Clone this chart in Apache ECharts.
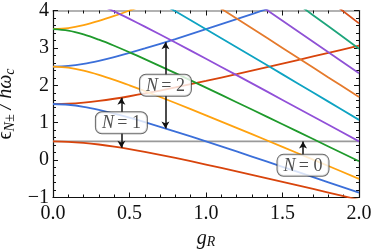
<!DOCTYPE html>
<html><head><meta charset="utf-8">
<script src="https://cdn.jsdelivr.net/npm/echarts@6/dist/echarts.min.js"></script>
<style>html,body{margin:0;padding:0;background:#fff}#c{width:374px;height:251px}</style>
</head><body><div id="c"></div>
<script>
// g_R sample points
const gValues = [0, 0.1, 0.2, 0.3, 0.4, 0.5, 0.6, 0.8, 1.0, 1.2, 1.4, 1.6, 1.8, 2.0];
// eps_{N±}/hbar omega_c
const eps0 = [0.5, 0.5, 0.5, 0.5, 0.5, 0.5, 0.5, 0.5, 0.5, 0.5, 0.5, 0.5, 0.5, 0.5];
const eps1Plus = [1.5, 1.51, 1.539, 1.583, 1.64, 1.707, 1.781, 1.943, 2.118, 2.3, 2.487, 2.676, 2.868, 3.062];
const eps1Minus = [0.5, 0.49, 0.461, 0.417, 0.36, 0.293, 0.219, 0.057, -0.118, -0.3, -0.487, -0.676, -0.868, -1.062];
const eps2Plus = [2.5, 2.52, 2.574, 2.656, 2.755, 2.866, 2.985, 3.237, 3.5, 3.769, 4.042, 4.317, 4.594, 4.872];
const eps2Minus = [1.5, 1.48, 1.426, 1.344, 1.245, 1.134, 1.015, 0.763, 0.5, 0.231, -0.042, -0.317, -0.594, -0.872];
const eps3Plus = [3.5, 3.529, 3.608, 3.721, 3.854, 4.0, 4.153, 4.473, 4.803, 5.138, 5.476, 5.816, 6.158, 6.5];
const eps3Minus = [2.5, 2.471, 2.392, 2.279, 2.146, 2.0, 1.847, 1.527, 1.197, 0.862, 0.524, 0.184, -0.158, -0.5];
const eps4Minus = [3.5, 3.461, 3.36, 3.219, 3.057, 2.882, 2.7, 2.324, 1.938, 1.548, 1.156, 0.761, 0.365, -0.031];
const eps5Minus = [4.5, 4.452, 4.329, 4.163, 3.975, 3.775, 3.568, 3.143, 2.709, 2.271, 1.83, 1.388, 0.944, 0.5];
const eps6Minus = [5.5, 5.443, 5.3, 5.111, 4.9, 4.677, 4.448, 3.978, 3.5, 3.018, 2.534, 2.049, 1.563, 1.076];
const eps7Minus = [6.5, 6.434, 6.272, 6.062, 5.83, 5.586, 5.336, 4.825, 4.307, 3.786, 3.262, 2.737, 2.211, 1.685];
const eps8Minus = [7.5, 7.426, 7.245, 7.015, 6.763, 6.5, 6.231, 5.683, 5.128, 4.569, 4.009, 3.447, 2.884, 2.321];
const eps9Minus = [8.5, 8.417, 8.219, 7.97, 7.7, 7.419, 7.132, 6.548, 5.959, 5.365, 4.77, 4.174, 3.577, 2.979];
const eps10Minus = [9.5, 9.408, 9.194, 8.928, 8.64, 8.342, 8.038, 7.421, 6.798, 6.173, 5.545, 4.916, 4.286, 3.656];
// tick labels
const xTicks = ['0.0', '0.5', '1.0', '1.5', '2.0'];
const yTicks = ['\u22121', '0', '1', '2', '3', '4'];
// annotations
const annN = ['0', '1', '2'];
const annG = [1.634, 0.447, 0.735];
const annEps = [-0.14, 1.0, 2.0];
const annTop = [0.5, 1.67, 3.15];
const annBottom = [null, 0.33, 0.847];

const colors = {
  gray: '#9a9a9a', n1: '#d8440c', n2: '#3b6fd9', n3: '#ffa20f', n4: '#1f9a2c',
  n5: '#9150d8', n6: '#0ea3c2', n7: '#e57a2c', n8: '#8f52d5', n9: '#1ea57c', n10: '#d9501a'
};
const curves = [
  [eps0, colors.gray], [eps1Plus, colors.n1], [eps1Minus, colors.n1],
  [eps2Plus, colors.n2], [eps2Minus, colors.n2], [eps3Plus, colors.n3], [eps3Minus, colors.n3],
  [eps4Minus, colors.n4], [eps5Minus, colors.n5], [eps6Minus, colors.n6], [eps7Minus, colors.n7],
  [eps8Minus, colors.n8], [eps9Minus, colors.n9], [eps10Minus, colors.n10]
];
const FONT = '"Liberation Serif", "DejaVu Serif", serif';

const series = curves.map(([vals, col], i) => ({
  type: 'line', data: gValues.map((g, k) => [g, vals[k]]), showSymbol: false,
  smooth: i === 0 ? false : 0.35, clip: true, silent: true,
  lineStyle: { color: col, width: 1.8 }, z: 2
}));

const arrowData = [];
annG.forEach((g, i) => {
  const dy = 0.27;
  arrowData.push([{ coord: [g, annEps[i] + dy] }, { coord: [g, annTop[i]] }]);
  if (annBottom[i] !== null) arrowData.push([{ coord: [g, annEps[i] - dy] }, { coord: [g, annBottom[i]] }]);
});
series.push({
  type: 'scatter', data: annG.map((g, i) => [g, annEps[i], annN[i]]), symbolSize: 0, z: 10,
  label: {
    show: true, position: 'inside',
    formatter: p => '{i|N} {r|= ' + p.data[2] + '}',
    backgroundColor: '#fff', borderColor: '#444', borderWidth: 1, borderRadius: 6,
    padding: [2, 6, 1, 6],
    rich: {
      i: { fontFamily: FONT, fontStyle: 'italic', fontSize: 18, color: '#222' },
      r: { fontFamily: FONT, fontSize: 18, color: '#222' }
    }
  },
  markLine: {
    silent: true, symbol: ['none', 'arrow'], symbolSize: [6, 7], label: { show: false },
    lineStyle: { color: '#111', width: 1.5, type: 'solid' }, data: arrowData, z: 9
  }
});

const tickCommon = {
  axisTick: { show: true, inside: true, length: 5, lineStyle: { color: '#111' } },
  minorTick: { show: true, splitNumber: 5, length: 3, lineStyle: { color: '#111' } },
  splitLine: { show: false }
};

const chart = echarts.init(document.getElementById('c'), null, { renderer: 'canvas' });
chart.setOption({
  animation: false,
  grid: { left: 53, right: 15, top: 10.5, bottom: 53.5, containLabel: false, outerBoundsMode: 'none' },
  xAxis: [Object.assign({
    type: 'value', min: 0, max: 2, interval: 0.5, position: 'bottom',
    axisLine: { onZero: false, lineStyle: { color: '#111', width: 1.2 } },
    axisLabel: { fontFamily: FONT, fontSize: 20, color: '#111', margin: 6,
      formatter: v => xTicks[Math.round(v / 0.5)] },
    name: '{g|g}{s|R}', nameLocation: 'middle', nameGap: 30,
    nameTextStyle: { rich: {
      g: { fontFamily: FONT, fontStyle: 'italic', fontSize: 20, color: '#111', lineHeight: 22, verticalAlign: 'middle' },
      s: { fontFamily: FONT, fontStyle: 'italic', fontSize: 14, color: '#111', verticalAlign: 'bottom', lineHeight: 22 }
    } }
  }, tickCommon), Object.assign({
    type: 'value', min: 0, max: 2, interval: 0.5, position: 'top',
    axisLine: { show: true, onZero: false, lineStyle: { color: '#999', width: 1.5 } },
    axisLabel: { show: false }
  }, tickCommon)],
  yAxis: [Object.assign({
    type: 'value', min: -1, max: 4, interval: 1, position: 'left',
    axisLine: { show: true, onZero: false, lineStyle: { color: '#111', width: 1.2 } },
    axisLabel: { fontFamily: FONT, fontSize: 20, color: '#111', margin: 4,
      formatter: v => yTicks[Math.round(v) + 1] },
    name: '{e|\u03f5}{s|N\u00b1}{t| / \u0127\u03c9}{s|c}', nameLocation: 'middle', nameGap: 22, nameRotate: 90,
    nameTextStyle: { rich: {
      e: { fontFamily: FONT, fontSize: 20, color: '#111', lineHeight: 22, verticalAlign: 'middle' },
      t: { fontFamily: FONT, fontStyle: 'italic', fontSize: 20, color: '#111', lineHeight: 22, verticalAlign: 'middle' },
      s: { fontFamily: FONT, fontStyle: 'italic', fontSize: 14, color: '#111', verticalAlign: 'bottom', lineHeight: 22 }
    } }
  }, tickCommon), Object.assign({
    type: 'value', min: -1, max: 4, interval: 1, position: 'right',
    axisLine: { show: true, onZero: false, lineStyle: { color: '#111', width: 1.2 } },
    axisLabel: { show: false }
  }, tickCommon)],
  series: series
});
</script></body></html>
